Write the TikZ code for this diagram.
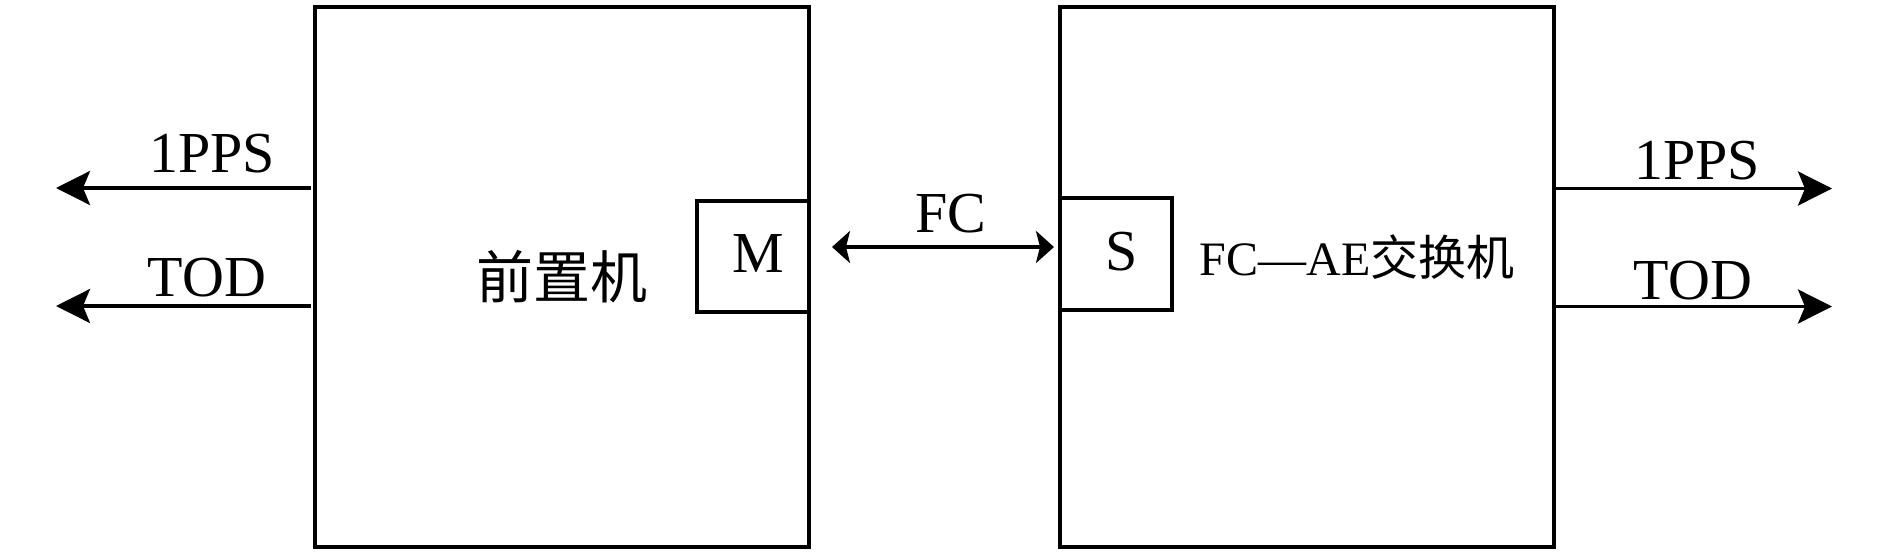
\documentclass[tikz,border=0pt]{standalone}
\usepackage{fontspec}
\setmainfont{Liberation Serif}
\newfontfamily\cjk{Noto Sans CJK SC}
\usetikzlibrary{arrows.meta}
\begin{document}
\begin{tikzpicture}[x=1pt,y=-1pt,
  box/.style={draw,line width=4pt,inner sep=0pt,outer sep=0pt},
  conn/.style={line width=3.7pt},
  outarrow/.style={conn,-{Stealth[length=34pt,width=34pt,inset=7pt]}},
  fcarrow/.style={conn,{Stealth[length=18pt,width=32pt,inset=4pt]}-{Stealth[length=18pt,width=32pt,inset=4pt]}},
  lab/.style={inner sep=0pt,anchor=base,font=\fontsize{58}{60}\selectfont},
  cjklab/.style={inner sep=0pt,font=\fontsize{57}{60}\selectfont\cjk}]
\useasboundingbox (0,0) rectangle (1890,555);
% main boxes
\node[box,minimum width=494pt,minimum height=540pt] (fep) at (562,277) {};
\node[box,minimum width=494pt,minimum height=540pt] (sw) at (1307,277) {};
% port boxes
\node[box,minimum width=112pt,minimum height=111pt] (M) at (753,256.5) {};
\node[box,minimum width=112pt,minimum height=112pt] (S) at (1116,254) {};
% texts
\node[lab] (mt) at (758,272.6) {M};
\node[lab] (st) at (1122,270) {S};
\node[cjklab] (fept) at (562,277) {前置机};
\node[inner sep=0pt,anchor=base,font=\fontsize{48}{50}\selectfont] (swt) at (1357,275) {FC—AE{\cjk 交换机}};
% left outputs
\coordinate (l1) at (56,188);
\coordinate (l2) at (56,306);
\draw[outarrow] ([xshift=-4pt]fep.west |- l1) -- (l1);
\draw[outarrow] ([xshift=-4pt]fep.west |- l2) -- (l2);
\node[lab] (lpps) at (212,172) {1PPS};
\node[lab] (ltod) at (207,296) {TOD};
% right outputs
\coordinate (r1) at (1832,188.5);
\coordinate (r2) at (1832,306.5);
\draw[outarrow] (sw.east |- r1) -- (r1);
\draw[outarrow] (sw.east |- r2) -- (r2);
\node[lab] (rpps) at (1697,179) {1PPS};
\node[lab] (rtod) at (1693,299) {TOD};
% FC link
\coordinate (fcl) at (832,247);
\coordinate (fcr) at (1054,247);
\draw[fcarrow] (fcl) -- (fcr);
\node[lab] (fct) at (951,232) {FC};
\end{tikzpicture}
\end{document}
